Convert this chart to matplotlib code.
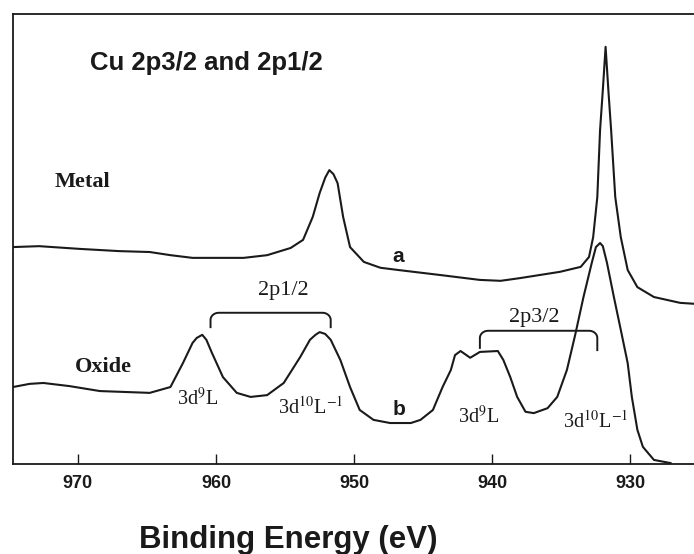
import matplotlib
matplotlib.use('Agg')
import matplotlib.pyplot as plt
import numpy as np

plt.rcParams['mathtext.fontset'] = 'stix'

# spectrum a (metal), binding energy in eV / intensity in arb. units
energy_metal = [974.7, 972.8, 969.9, 967.0, 964.8, 963.3, 961.7, 958.0, 956.3, 954.6,
                953.7, 953.0, 952.5, 952.1, 951.8, 951.5, 951.2, 950.8, 950.3, 949.3,
                948.1, 946.8, 943.8, 940.9, 939.4, 938.0, 935.1, 933.6, 933.0, 932.7,
                932.4, 932.2, 932.0, 931.8, 931.6, 931.4, 931.1, 930.7, 930.2, 929.5,
                928.3, 926.4, 925.4]
int_metal = [48.2, 48.4, 47.8, 47.3, 47.1, 46.4, 45.8, 45.8, 46.4, 48.0,
             49.8, 54.9, 60.2, 63.6, 65.3, 64.4, 62.4, 54.9, 48.2, 44.9,
             43.6, 43.1, 42.0, 40.9, 40.7, 41.3, 42.7, 43.8, 46.0, 50.4,
             59.3, 74.2, 83.1, 92.7, 83.1, 74.2, 59.3, 50.4, 43.1, 39.3,
             37.1, 35.8, 35.6]

# spectrum b (oxide)
energy_oxide = [974.7, 973.5, 972.5, 970.6, 968.4, 964.8, 963.3, 962.4, 961.7, 961.4,
                961.0, 960.7, 960.3, 959.5, 958.5, 957.5, 956.3, 955.1, 953.9, 953.2,
                952.8, 952.5, 952.1, 951.7, 951.0, 950.3, 949.6, 948.6, 947.4, 945.9,
                945.2, 944.3, 943.6, 943.0, 942.7, 942.3, 941.6, 940.9, 939.6, 939.2,
                938.7, 938.2, 937.6, 937.0, 936.0, 935.3, 934.6, 934.0, 933.4, 932.8,
                932.5, 932.2, 932.0, 931.7, 931.2, 930.7, 930.2, 929.9, 929.5, 929.1,
                928.3, 927.1]
int_oxide = [17.1, 17.8, 18.0, 17.3, 16.2, 15.8, 17.1, 22.4, 26.9, 28.0,
             28.7, 27.6, 24.7, 19.3, 15.8, 14.9, 15.3, 18.0, 23.8, 27.6,
             28.7, 29.3, 28.9, 27.6, 23.1, 17.1, 12.0, 9.8, 9.1, 9.1,
             9.8, 12.0, 17.1, 20.9, 24.2, 25.1, 23.6, 24.9, 25.1, 23.1,
             19.3, 14.9, 11.6, 11.3, 12.4, 14.9, 20.9, 28.7, 37.1, 44.7,
             48.2, 49.1, 48.4, 44.7, 37.1, 29.8, 22.4, 14.9, 7.6, 3.8,
             0.9, 0.2]

xticks = [970, 960, 950, 940, 930]

# brackets: (left eV, right eV, left foot, right foot, top)
brackets = [(960.4, 951.7, 30.4, 30.4, 33.6),
            (940.9, 932.4, 25.8, 25.3, 29.6)]
bracket_labels = ['2p1/2', '2p3/2']
bracket_label_pos = [(955.1, 37.6), (937.0, 31.6)]

peak_labels = ['3d$^{9}$L', '3d$^{10}$L$^{-1}$', '3d$^{9}$L', '3d$^{10}$L$^{-1}$']
peak_label_pos = [(962.8, 13.1), (955.5, 11.3), (942.5, 9.1), (934.9, 8.2)]

ink = '#1a1a1a'

fig = plt.figure(figsize=(6.94, 5.54), dpi=100)
ax = fig.add_axes([0.0187, 0.1625, 0.9813, 0.8123])

ax.plot(energy_metal, int_metal, color=ink, lw=1.5, solid_joinstyle='round')
ax.plot(energy_oxide, int_oxide, color=ink, lw=1.5, solid_joinstyle='round')

ax.set_xlim(974.7, 925.4)
ax.set_ylim(0, 100)
ax.set_yticks([])
ax.set_xticks(xticks)
ax.tick_params(axis='x', direction='in', length=7, width=1, pad=8,
               labelsize=13, colors=ink)
for lab in ax.get_xticklabels():
    lab.set_fontfamily('Liberation Sans')
    lab.set_fontweight('bold')
ax.spines['right'].set_visible(False)
for s in ['left', 'bottom', 'top']:
    ax.spines[s].set_linewidth(1.3)
    ax.spines[s].set_color(ink)

# brackets with rounded corners
rx, ry = 0.6, 1.6
for (xl, xr, ybl, ybr, yt) in brackets:
    t1 = np.linspace(np.pi, np.pi / 2, 12)
    t2 = np.linspace(np.pi / 2, 0, 12)
    ul, ur = -xl, -xr
    u = np.concatenate([[ul], ul + rx + rx * np.cos(t1), ur - rx + rx * np.cos(t2), [ur]])
    v = np.concatenate([[ybl], yt - ry + ry * np.sin(t1), yt - ry + ry * np.sin(t2), [ybr]])
    ax.plot(-u, v, color=ink, lw=1.4)

for txt, (x, y) in zip(bracket_labels, bracket_label_pos):
    ax.text(x, y, txt, ha='center', va='baseline', fontsize=16,
            family='Liberation Serif', color=ink)

for txt, (x, y) in zip(peak_labels, peak_label_pos):
    ax.text(x, y, txt, ha='left', va='baseline', fontsize=14.5,
            family='Liberation Serif', color=ink)

ax.text(971.7, 61.6, 'Metal', ha='left', va='baseline', fontsize=16,
        family='Liberation Serif', fontweight='bold', color=ink)
ax.text(970.2, 20.4, 'Oxide', ha='left', va='baseline', fontsize=16,
        family='Liberation Serif', fontweight='bold', color=ink)
ax.text(947.2, 44.9, 'a', ha='left', va='baseline', fontsize=15,
        family='Liberation Sans', fontweight='bold', color=ink)
ax.text(947.2, 10.9, 'b', ha='left', va='baseline', fontsize=15,
        family='Liberation Sans', fontweight='bold', color=ink)
ax.text(960.7, 87.6, 'Cu 2p3/2 and 2p1/2', ha='center', va='baseline',
        fontsize=18.5, family='Liberation Sans', fontweight='bold', color=ink)

fig.text(0.416, 0.011, 'Binding Energy (eV)', ha='center', va='baseline',
         fontsize=22.5, family='Liberation Sans', fontweight='bold', color=ink)

fig.savefig('out.png', dpi=100)
